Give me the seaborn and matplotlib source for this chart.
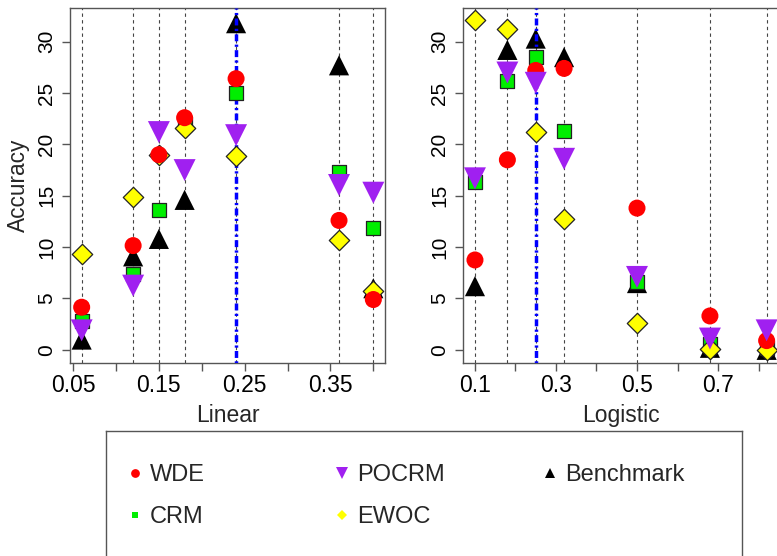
import matplotlib
matplotlib.use("Agg")
import matplotlib.pyplot as plt
import seaborn as sns
import pandas as pd
from matplotlib.lines import Line2D

# ---------------- data ----------------
linear_doses = [0.06, 0.12, 0.15, 0.18, 0.24, 0.36, 0.40]
linear_wde = [4.15, 10.15, 19.0, 22.6, 26.4, 12.6, 4.9]
linear_crm = [2.8, 7.4, 13.6, 22.0, 25.0, 17.35, 11.9]
linear_pocrm = [1.9, 6.25, 21.2, 17.5, 20.9, 16.05, 15.3]
linear_ewoc = [9.3, 14.85, 19.0, 21.6, 18.9, 10.7, 5.7]
linear_bench = [1.0, 9.1, 10.8, 14.6, 31.8, 27.7, 6.0]
linear_target = 0.24

logistic_doses = [0.10, 0.18, 0.25, 0.32, 0.50, 0.68, 0.82]
logistic_wde = [8.75, 18.5, 27.2, 27.4, 13.8, 3.3, 0.9]
logistic_crm = [16.3, 26.2, 28.5, 21.3, 6.6, 0.6, 0.2]
logistic_pocrm = [16.7, 27.0, 26.0, 18.6, 7.1, 1.1, 1.9]
logistic_ewoc = [32.1, 31.2, 21.2, 12.7, 2.65, 0.1, 0.0]
logistic_bench = [6.2, 29.2, 30.3, 28.5, 6.5, 0.2, 0.0]
logistic_target = 0.25

linear_xticks = [0.05, 0.10, 0.15, 0.20, 0.25, 0.30, 0.35, 0.40]
linear_xlabels = ["0.05", "", "0.15", "", "0.25", "", "0.35", ""]
logistic_xticks = [0.1, 0.2, 0.3, 0.4, 0.5, 0.6, 0.7, 0.8]
logistic_xlabels = ["0.1", "", "0.3", "", "0.5", "", "0.7", ""]
yticks = [0, 5, 10, 15, 20, 25, 30]
ytick_labels = ["0", "5", "10", "15", "20", "25", "30"]

methods = ["WDE", "CRM", "POCRM", "EWOC", "Benchmark"]

# ---------------- style ----------------
sns.set_theme(style="white")
plt.rcParams["font.family"] = ["Liberation Sans", "DejaVu Sans"]
plt.rcParams["lines.scale_dashes"] = False

colors = {"WDE": "#FF0000", "CRM": "#00EE00", "POCRM": "#A020F0",
          "EWOC": "#FFFF00", "Benchmark": "#000000"}
markers = {"WDE": "o", "CRM": "s", "POCRM": "v", "EWOC": "D", "Benchmark": "^"}
sizes = {"WDE": 150, "CRM": 100, "POCRM": 250, "EWOC": 108, "Benchmark": 210}
edges = {"WDE": "none", "CRM": "#222222", "POCRM": "none", "EWOC": "#222222",
         "Benchmark": "none"}
zorders = {"Benchmark": 3, "CRM": 5, "EWOC": 6, "WDE": 7, "POCRM": 8}
frame_col = "#555555"

fig = plt.figure(figsize=(7.77, 5.56), dpi=100)
W, H = 777.0, 556.0
axL = fig.add_axes([70 / W, 1 - 363 / H, 315 / W, 355 / H])
axR = fig.add_axes([463.3 / W, 1 - 363 / H, 315 / W, 355 / H])


def draw_panel(ax, doses, series, target, xticks, xlabels, xlim, xlabel):
    for d in doses:
        ax.axvline(d, color="#444444", lw=0.8, ls=(0, (2.4, 2.4)), zorder=1)
    ax.axvline(target, color="#0000FF", lw=2.5, ls=(0, (1.6, 2.4, 5.0, 2.4)), zorder=4)
    for m in methods:
        df = pd.DataFrame({"dose": doses, "acc": series[m]})
        sns.scatterplot(data=df, x="dose", y="acc", ax=ax, marker=markers[m],
                        color=colors[m], s=sizes[m], edgecolor=edges[m],
                        linewidth=0.9, zorder=zorders[m], legend=False)
    ax.set_xlim(*xlim)
    ax.set_ylim(-1.28, 33.28)
    ax.set_xticks(xticks)
    ax.set_xticklabels(xlabels)
    ax.set_yticks(yticks)
    ax.set_yticklabels(ytick_labels)
    ax.tick_params(axis="both", direction="out", length=5.5, width=1.0,
                   color=frame_col, labelcolor="black",
                   bottom=True, left=True)
    ax.tick_params(axis="x", pad=2.5, labelsize=16.5)
    ax.tick_params(axis="y", pad=4.5, labelrotation=90, labelsize=15)
    for lab in ax.get_yticklabels():
        lab.set_va("center")
    for sp in ax.spines.values():
        sp.set_color(frame_col)
        sp.set_linewidth(1.0)
    ax.set_xlabel(xlabel, fontsize=16.5, labelpad=5)
    ax.set_ylabel("")


draw_panel(axL, linear_doses,
           {"WDE": linear_wde, "CRM": linear_crm, "POCRM": linear_pocrm,
            "EWOC": linear_ewoc, "Benchmark": linear_bench},
           linear_target, linear_xticks, linear_xlabels, (0.0464, 0.4136), "Linear")
draw_panel(axR, logistic_doses,
           {"WDE": logistic_wde, "CRM": logistic_crm, "POCRM": logistic_pocrm,
            "EWOC": logistic_ewoc, "Benchmark": logistic_bench},
           logistic_target, logistic_xticks, logistic_xlabels, (0.0712, 0.8488), "Logistic")
axL.set_ylabel("Accuracy", fontsize=16.3, labelpad=5)

# ---------------- legend ----------------
legax = fig.add_axes([106 / W, 1 - 558 / H, 636 / W, (558 - 431) / H])
legax.set_xticks([])
legax.set_yticks([])
legax.set_facecolor("white")
for sp in legax.spines.values():
    sp.set_color(frame_col)
    sp.set_linewidth(1.0)

leg_ms = {"WDE": 6.3, "CRM": 5.0, "POCRM": 8.0, "EWOC": 5.2, "Benchmark": 6.5}


def handle(m):
    return Line2D([], [], ls="none", marker=markers[m], color=colors[m],
                  markersize=leg_ms[m], markeredgewidth=0)


fs = 17
fs_px = fs * 100 / 72
columns = [(["WDE", "CRM"], 135), (["POCRM", "EWOC"], 342), (["Benchmark"], 550)]
for names, mx in columns:
    x0 = (mx - 0.32 * fs_px) / W
    y0 = 1 - 464 / H
    lg = fig.legend(handles=[handle(n) for n in names], labels=names,
                    loc="upper left", bbox_to_anchor=(x0, y0),
                    bbox_transform=fig.transFigure, frameon=False,
                    fontsize=fs, handlelength=0.64, handletextpad=0.32,
                    borderpad=0, borderaxespad=0, labelspacing=0.86)

fig.savefig("out.png", dpi=100)
